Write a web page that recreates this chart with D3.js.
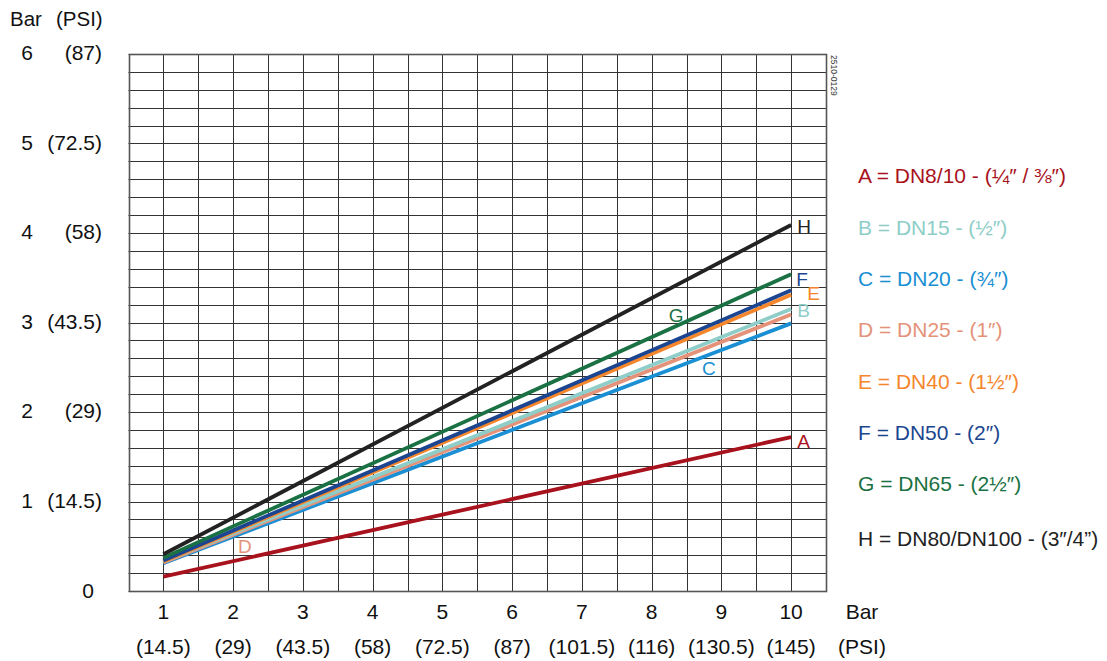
<!DOCTYPE html>
<html>
<head>
<meta charset="utf-8">
<script src="https://cdn.jsdelivr.net/npm/d3@7"></script>
<style>
  html, body { margin: 0; padding: 0; background: #fff; }
  svg { display: block; font-family: "Liberation Sans", Arial, sans-serif; }
</style>
</head>
<body>
<svg id="chart" width="1107" height="661"></svg>
<script>
// ---- data ----
const seriesKeys = ["A", "B", "C", "D", "E", "F", "G", "H"];
const xValues = [1, 10];
const seriesA = [0.16, 1.72];
const seriesB = [0.33, 3.15];
const seriesC = [0.31, 2.99];
const seriesD = [0.32, 3.09];
const seriesE = [0.33, 3.31];
const seriesF = [0.34, 3.36];
const seriesG = [0.37, 3.54];
const seriesH = [0.41, 4.09];
const legendLabels = [
  "A = DN8/10 - (¼″ / ⅜″)",
  "B = DN15 - (½″)",
  "C = DN20 - (¾″)",
  "D = DN25 - (1″)",
  "E = DN40 - (1½″)",
  "F = DN50 - (2″)",
  "G = DN65 - (2½″)",
  "H = DN80/DN100 - (3″/4”)"
];
const xTickBar = [1, 2, 3, 4, 5, 6, 7, 8, 9, 10];
const xTickPsi = ["(14.5)", "(29)", "(43.5)", "(58)", "(72.5)", "(87)", "(101.5)", "(116)", "(130.5)", "(145)"];
const yTickBar = [0, 1, 2, 3, 4, 5, 6];
const yTickPsi = ["", "(14.5)", "(29)", "(43.5)", "(58)", "(72.5)", "(87)"];

const seriesValues = { A: seriesA, B: seriesB, C: seriesC, D: seriesD, E: seriesE, F: seriesF, G: seriesG, H: seriesH };

// ---- styles ----
const colors = { A: "#a8121c", B: "#8ecdc8", C: "#1a8fd3", D: "#e5927a", E: "#f5862c", F: "#1b4590", G: "#1a7143", H: "#222222" };
// label placement: [x in data units, dx px, dy px]
const labelPlace = {
  A: [10, 6, 4], B: [10, 6, 1], C: [8.82, 0, 14], D: [2.17, 0, 16],
  E: [10, 16, -1], F: [10, 5, -11], G: [8.35, 0, -11], H: [10, 6, 1]
};
const drawOrder = ["A", "C", "D", "B", "E", "F", "G", "H"];

const svg = d3.select("#chart");
const x = d3.scaleLinear().domain([0.5, 10.5]).range([128.5, 826]);
const y = d3.scaleLinear().domain([0, 6]).range([591, 54]);

// grid
const g = svg.append("g");
const hLines = d3.range(0, 31).map(i => i * 0.2);
g.selectAll("line.h").data(hLines).enter().append("line")
  .attr("x1", x(0.5)).attr("x2", x(10.5))
  .attr("y1", d => Math.round(y(d)) + 0.5).attr("y2", d => Math.round(y(d)) + 0.5)
  .attr("stroke", "#333").attr("stroke-width", 1);
const vLines = d3.range(0, 21).map(i => 0.5 + i * 0.5);
g.selectAll("line.v").data(vLines).enter().append("line")
  .attr("x1", d => Math.round(x(d)) + 0.5).attr("x2", d => Math.round(x(d)) + 0.5)
  .attr("y1", y(6)).attr("y2", y(0))
  .attr("stroke", "#333").attr("stroke-width", 1);
// outer border
svg.append("rect")
  .attr("x", Math.round(x(0.5)) + 0.5).attr("y", Math.round(y(6)) + 0.5)
  .attr("width", Math.round(x(10.5)) - Math.round(x(0.5)))
  .attr("height", Math.round(y(0)) - Math.round(y(6)))
  .attr("fill", "none").attr("stroke", "#555").attr("stroke-width", 1.6);

// lines
const line = d3.line().x(d => x(d[0])).y(d => y(d[1]));
drawOrder.forEach(k => {
  const pts = xValues.map((xv, i) => [xv, seriesValues[k][i]]);
  svg.append("path").datum(pts)
    .attr("d", line)
    .attr("fill", "none")
    .attr("stroke", colors[k])
    .attr("stroke-width", 3.8);
});

// line labels
seriesKeys.forEach(k => {
  const [lx, dx, dy] = labelPlace[k];
  const v = seriesValues[k];
  const val = v[0] + (v[1] - v[0]) * (lx - xValues[0]) / (xValues[1] - xValues[0]);
  svg.append("text")
    .attr("x", x(lx) + dx).attr("y", y(val) + dy)
    .attr("dy", "0.35em")
    .attr("text-anchor", lx === 10 ? "start" : "middle")
    .attr("font-size", 19)
    .attr("fill", colors[k])
    .text(k);
});

// y axis labels
const fs = 21;
svg.append("text").attr("x", 10).attr("y", 19).attr("dy", "0.35em").attr("font-size", 20.5).attr("fill", "#111").text("Bar");
svg.append("text").attr("x", 56).attr("y", 19).attr("dy", "0.35em").attr("font-size", 20.5).attr("fill", "#111").text("(PSI)");
yTickBar.forEach((v, i) => {
  if (v === 0) {
    svg.append("text").attr("x", 88).attr("y", y(0)).attr("dy", "0.35em")
      .attr("text-anchor", "middle").attr("font-size", fs).attr("fill", "#111").text("0");
    return;
  }
  svg.append("text").attr("x", 27).attr("y", y(v) - 1).attr("dy", "0.35em")
    .attr("text-anchor", "middle").attr("font-size", fs).attr("fill", "#111").text(v);
  svg.append("text").attr("x", 102).attr("y", y(v) - 1).attr("dy", "0.35em")
    .attr("text-anchor", "end").attr("font-size", fs).attr("fill", "#111").text(yTickPsi[i]);
});

// x axis labels
xTickBar.forEach((v, i) => {
  svg.append("text").attr("x", x(v)).attr("y", 612).attr("dy", "0.35em")
    .attr("text-anchor", "middle").attr("font-size", fs).attr("fill", "#111").text(v);
  svg.append("text").attr("x", x(v)).attr("y", 647).attr("dy", "0.35em")
    .attr("text-anchor", "middle").attr("font-size", fs).attr("fill", "#111").text(xTickPsi[i]);
});
svg.append("text").attr("x", 862).attr("y", 612).attr("dy", "0.35em")
  .attr("text-anchor", "middle").attr("font-size", fs).attr("fill", "#111").text("Bar");
svg.append("text").attr("x", 862).attr("y", 647).attr("dy", "0.35em")
  .attr("text-anchor", "middle").attr("font-size", fs).attr("fill", "#111").text("(PSI)");

// legend
seriesKeys.forEach((k, i) => {
  svg.append("text").attr("x", 858).attr("y", 176 + i * 51.3 + (k === "H" ? 4 : 0)).attr("dy", "0.35em")
    .attr("font-size", 21).attr("fill", colors[k]).text(legendLabels[i]);
});

// document code
svg.append("text")
  .attr("transform", "translate(831,55) rotate(90)")
  .attr("font-size", 8.5).attr("fill", "#333").text("2510-0129");
</script>
</body>
</html>
